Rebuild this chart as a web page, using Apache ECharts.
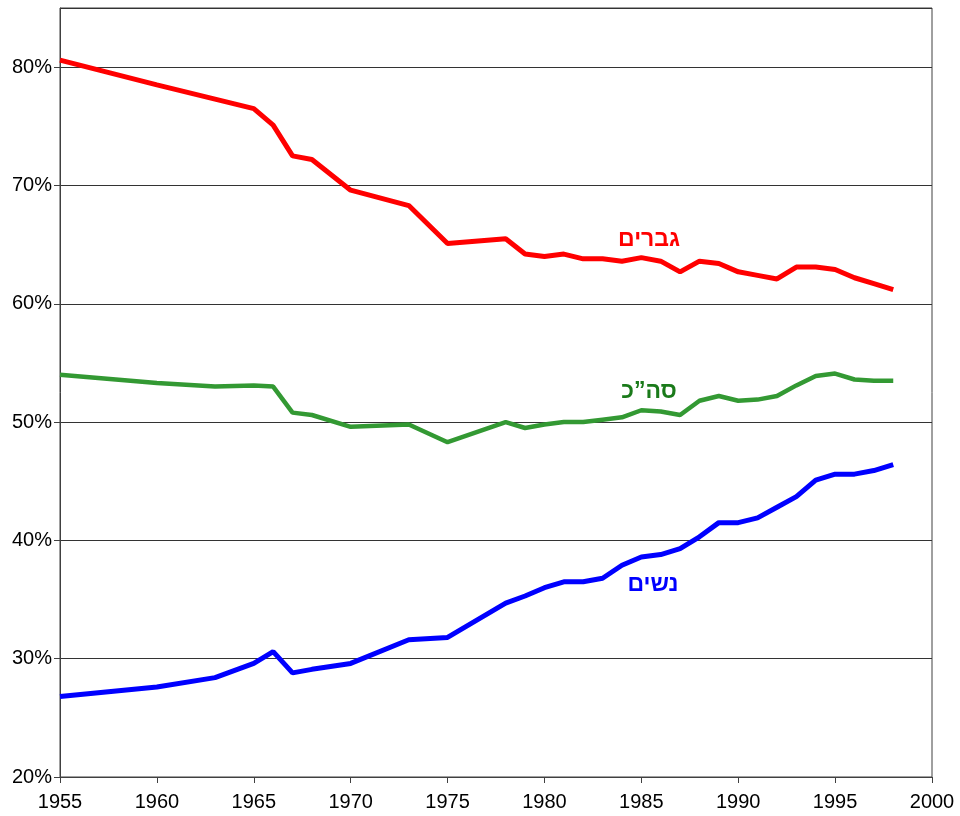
<!DOCTYPE html>
<html>
<head>
<meta charset="UTF-8">
<title>שיעור השתתפות</title>
<script src="https://cdn.jsdelivr.net/npm/echarts@6/dist/echarts.min.js"></script>
<style>
  * { margin: 0; padding: 0; }
  body { background: #fff; }
  #chart { width: 960px; height: 816px; }
</style>
</head>
<body>
<div id="chart"></div>
<script>
// שנים
var years = [1955, 1960, 1963, 1965, 1966, 1967, 1968, 1970, 1973, 1975, 1978, 1979, 1980,
  1981, 1982, 1983, 1984, 1985, 1986, 1987, 1988, 1989, 1990, 1991, 1992, 1993, 1994,
  1995, 1996, 1997, 1998];

// גברים
var men = [80.6, 78.5, 77.3, 76.5, 75.1, 72.5, 72.2, 69.6, 68.3, 65.1, 65.5, 64.2, 64.0,
  64.2, 63.8, 63.8, 63.6, 63.9, 63.6, 62.7, 63.6, 63.4, 62.7, 62.4, 62.1, 63.1, 63.1,
  62.9, 62.2, 61.7, 61.2];

// סה"כ
var total = [54.0, 53.3, 53.0, 53.1, 53.0, 50.8, 50.6, 49.6, 49.8, 48.3, 50.0, 49.5, 49.8,
  50.0, 50.0, 50.2, 50.4, 51.0, 50.9, 50.6, 51.8, 52.2, 51.8, 51.9, 52.2, 53.1, 53.9,
  54.1, 53.6, 53.5, 53.5];

// נשים
var women = [26.8, 27.6, 28.4, 29.6, 30.6, 28.8, 29.1, 29.6, 31.6, 31.8, 34.7, 35.3, 36.0,
  36.5, 36.5, 36.8, 37.9, 38.6, 38.8, 39.3, 40.3, 41.5, 41.5, 41.9, 42.8, 43.7, 45.1,
  45.6, 45.6, 45.9, 46.4];

var labelMen = 'גברים';
var labelTotal = 'סה”כ';
var labelWomen = 'נשים';

function pairs(vals) {
  var out = [];
  for (var i = 0; i < years.length; i++) {
    out.push([years[i], vals[i]]);
  }
  return out;
}

function tag(text, x, y, color) {
  return {
    silent: true,
    symbol: 'circle',
    symbolSize: 0,
    data: [{ coord: [x, y] }],
    label: {
      show: true,
      position: 'inside',
      formatter: text,
      color: color,
      fontSize: 23,
      fontWeight: 'bold',
      fontFamily: 'Liberation Sans, Arial, sans-serif'
    }
  };
}

var chart = echarts.init(document.getElementById('chart'));
chart.setOption({
  animation: false,
  textStyle: { fontFamily: 'Liberation Sans, Arial, sans-serif' },
  grid: {
    left: 60, right: 28, top: 8, bottom: 39,
    show: true,
    borderColor: '#404040',
    borderWidth: 1
  },
  xAxis: {
    type: 'value',
    min: 1955, max: 2000, interval: 5,
    axisLine: { lineStyle: { color: '#404040', width: 1 } },
    axisTick: { show: true, length: 6, lineStyle: { color: '#404040' } },
    axisLabel: {
      color: '#000', fontSize: 20, margin: 15,
      formatter: function (v) { return String(v); }
    },
    splitLine: { show: false }
  },
  yAxis: {
    type: 'value',
    min: 20, max: 85, interval: 10,
    axisLine: { show: true, lineStyle: { color: '#404040', width: 1 } },
    axisTick: { show: true, length: 6, lineStyle: { color: '#404040' } },
    axisLabel: {
      color: '#000', fontSize: 20, margin: 8, showMaxLabel: false,
      formatter: function (v) { return v + '%'; }
    },
    splitLine: { show: true, lineStyle: { color: '#333', width: 1 } }
  },
  series: [
    {
      name: labelMen, type: 'line', data: pairs(men),
      symbol: 'none', lineStyle: { color: '#ff0000', width: 5 },
      markPoint: tag(labelMen, 1985.4, 65.4, '#ff0000')
    },
    {
      name: labelTotal, type: 'line', data: pairs(total),
      symbol: 'none', lineStyle: { color: '#339933', width: 4.5 },
      markPoint: tag(labelTotal, 1985.4, 52.6, '#1a7a1a')
    },
    {
      name: labelWomen, type: 'line', data: pairs(women),
      symbol: 'none', lineStyle: { color: '#0000ff', width: 5 },
      markPoint: tag(labelWomen, 1985.6, 36.3, '#0000ff')
    }
  ]
});
</script>
</body>
</html>
